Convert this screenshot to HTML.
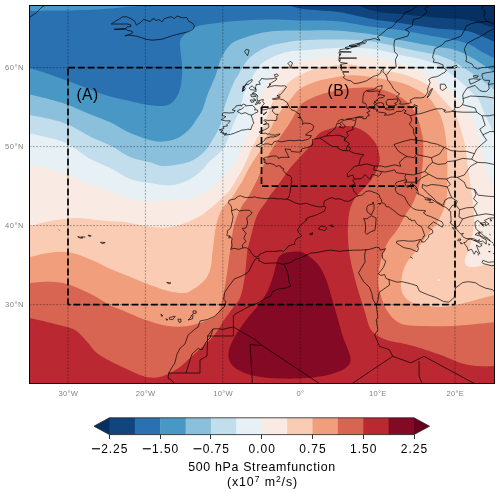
<!DOCTYPE html>
<html><head><meta charset="utf-8"><title>500 hPa Streamfunction</title>
<style>html,body{margin:0;padding:0;background:#fff;}body{width:500px;height:493px;overflow:hidden;}svg{display:block;will-change:transform;}</style>
</head><body>
<svg width="500" height="493" viewBox="0 0 500 493">
<defs><clipPath id="mc"><rect x="29.5" y="5.5" width="465.0" height="378.0"/></clipPath></defs>
<g clip-path="url(#mc)">
<rect x="28" y="4" width="468" height="381" fill="#053061"/>
<path d="M352 3C355.8 4.4 367 9.4 375 11.2C383 13 390 13 400 14C410 15 423.8 16.4 435 17.4C446.2 18.3 457.9 18.2 467 19.7C476.1 21.2 484.5 24.9 489.5 26.4C494.5 27.9 495.8 28.1 497 28.5L496 385 L28 385L28 4Z" fill="#10457e"/>
<path d="M283 3C285.8 3.9 293.8 7.2 300 8.5C306.2 9.8 313.3 9.9 320 10.5C326.7 11.1 331.3 10.9 340 12.3C348.7 13.7 362 17.2 372 19C382 20.8 389.5 21.5 400 23C410.5 24.5 423.8 26.9 435 28.2C446.2 29.5 458.5 29.3 467 30.9C475.5 32.5 481 36 486 38C491 40 495.2 42.2 497 43L496 385 L28 385L28 4Z" fill="#2a71b2"/>
<path d="M27 67.2C30.8 68.4 43.2 72.2 50 74.5C56.8 76.8 61.3 78.5 68 81C74.7 83.5 84.3 87.3 90 89.5C95.7 91.7 97.7 92.6 102 94C106.3 95.4 111.3 96.8 116 98C120.7 99.2 125.2 99.9 130 101C134.8 102.1 139.7 103.7 145 104.5C150.3 105.3 157.4 106.1 161.6 106C165.8 105.9 167.6 105.3 170 104C172.4 102.7 174.2 100.8 176 98C177.8 95.2 179.4 91.7 180.5 87C181.6 82.3 182.2 75.3 182.3 70C182.4 64.7 181.4 59.7 181 55C180.6 50.3 179.5 45.3 180 42C180.5 38.7 181.5 37.5 184 35C186.5 32.5 190.5 28.9 195 27C199.5 25.1 205.7 24.7 211 23.8C216.3 22.9 221.7 22.2 227 21.7C232.3 21.2 237.7 20.9 243 20.6C248.3 20.3 253.7 20 259 19.8C264.3 19.6 268.2 19.4 275 19.5C281.8 19.6 292.5 20.3 300 20.5C307.5 20.7 313.3 20.3 320 20.5C326.7 20.7 331.7 20.5 340 21.5C348.3 22.5 360 25.1 370 26.5C380 27.9 389.2 28.3 400 30C410.8 31.7 425.9 34.9 435 36.6C444.1 38.3 448.7 38.6 454.6 40C460.5 41.4 465.8 42.9 470.5 44.9C475.2 46.9 478.2 49.8 482.6 52.2C487 54.6 494.6 58.3 497 59.5L496 385 L28 385Z" fill="#4997c5"/>
<path d="M27 93.8C30.8 94.8 43.2 97.6 50 99.5C56.8 101.4 61.3 102.5 68 105C74.7 107.5 83 111.3 90 114.2C97 117.1 103.6 119.2 110.3 122.3C117 125.4 123.4 130.1 130 133C136.6 135.9 144.7 138.6 150 140C155.3 141.4 157.5 141.8 162 141.6C166.5 141.3 172.3 140.5 176.8 138.5C181.3 136.5 185.8 132.6 189 129.5C192.2 126.4 194 123 196.2 119.7C198.4 116.5 200.4 114.4 202.3 110C204.2 105.6 206.3 97.8 207.9 93.5C209.5 89.2 210.7 87.1 212 84C213.3 80.9 214.4 79 215.8 75C217.2 71 218.7 64.2 220.6 59.8C222.5 55.4 224.9 51.5 227 48.6C229.1 45.7 230.7 43.9 233.4 42.2C236.1 40.5 238.7 39.7 243 38.2C247.3 36.7 253.7 34.6 259 33.4C264.3 32.2 268.2 31.5 275 31C281.8 30.5 290 30.6 300 30.5C310 30.4 323.3 29.8 335 30.4C346.7 31 359.2 32.4 370 34C380.8 35.6 388.7 37.8 400 40C411.3 42.2 428.9 45.4 438 47C447.1 48.6 449.2 48 454.6 49.7C460 51.4 465.8 54.5 470.5 57C475.2 59.5 478.2 61.7 482.6 64.4C487 67.2 494.6 72 497 73.5L496 385 L28 385Z" fill="#8ac0db"/>
<path d="M27 114.3C30.8 115.1 43.2 117.3 50 119C56.8 120.7 61.3 121.6 68 124.5C74.7 127.4 83 133 90 136.5C97 140 103.6 142.2 110.3 145.6C117 149 123.4 154.2 130 157C136.6 159.8 144.7 160.8 150 162.3C155.3 163.8 157.5 165.6 162 166C166.5 166.4 171.9 165.5 176.8 164.7C181.7 163.9 187 163 191.4 161C195.8 159 199.9 156.2 203.5 152.6C207.1 149 210.2 143.9 213 139.2C215.8 134.5 218.8 129.7 220.6 124.6C222.4 119.5 222.8 113.4 224 108.7C225.2 104 226.4 101 228.1 96.5C229.8 92 232.3 85.6 234 82C235.7 78.4 236.7 77.6 238.2 75C239.7 72.4 240.9 69.3 243 66.2C245.1 63.1 248.3 59.1 251 56.6C253.7 54.1 256.3 52.6 259 51C261.7 49.4 264.3 48.1 267 47C269.7 45.9 269.5 45.7 275 44.6C280.5 43.5 290 41.4 300 40.6C310 39.8 323.3 39.5 335 39.6C346.7 39.7 357.2 39.6 370 41.3C382.8 43 401.9 48 412 50C422.1 52 425.7 52.6 430.4 53.6C435.1 54.6 436 54.4 440 55.8C444 57.2 449.9 59.4 454.6 61.9C459.3 64.3 463.7 67.7 468 70.5C472.3 73.3 475.4 75.4 480.2 79C485 82.6 494.2 89.8 497 92L496 385 L28 385Z" fill="#c2ddec"/>
<path d="M27 132.7C30.8 133.6 43.2 136.1 50 138C56.8 139.9 61.3 140.5 68 144C74.7 147.5 83 154.8 90 158.8C97 162.8 103.6 164.6 110.3 168C117 171.4 123.4 176.5 130 179C136.6 181.5 143.4 181.9 150 183C156.6 184.1 163.7 185.7 169.5 185.4C175.3 185.2 180.8 183.1 185 181.5C189.2 179.9 192 178.1 195 176C198 173.9 200.5 171.5 203 169C205.5 166.5 207.5 163.5 210 161C212.5 158.5 215.5 156.5 218 154C220.5 151.5 222.8 150 225 146C227.2 142 229.2 134.7 231 130C232.8 125.3 234.5 121.3 236 118C237.5 114.7 238.7 114.2 240 110C241.3 105.8 242.3 97.8 244 93C245.7 88.2 247.7 85.2 250 81C252.3 76.8 255.7 71.2 258 68C260.3 64.8 260.8 63.9 264 61.7C267.2 59.5 272.9 56.7 277 55C281.1 53.3 284.7 52.4 288.5 51.7C292.3 51 292.2 51.2 300 50.6C307.8 50 323.3 48.4 335 48.1C346.7 47.8 359.2 47.5 370 48.6C380.8 49.7 392 53.2 400 54.9C408 56.5 412.1 56.9 418.2 58.5C424.3 60.1 430.9 61.8 436.5 64.6C442.1 67.3 447.4 71.6 452 75C456.6 78.4 460.7 81.8 464.4 85.1C468.1 88.4 471.6 92.3 474 94.8C476.4 97.3 477.2 96.7 479 100C480.8 103.3 483 110.1 485 114.6C487 119.1 489 122.6 491 127C493 131.4 496 138.7 497 141L496 385 L28 385Z" fill="#e7f0f4"/>
<path d="M27 164.7C30.8 165.4 43.2 167.4 50 169C56.8 170.6 61.3 171.8 68 174.3C74.7 176.8 83 181.4 90 184.2C97 187 103.8 188.9 110.3 191.3C116.8 193.7 122.4 197 129 198.7C135.6 200.3 142.4 201 150 201.2C157.6 201.4 168.5 200.3 174.3 200C180.1 199.7 180.5 200.5 185 199.5C189.5 198.5 196.3 196.3 201.2 194.1C206.1 191.8 210.1 189.2 214.2 186C218.3 182.8 221.8 178.9 225.6 174.6C229.4 170.3 234.3 164.4 237 160C239.7 155.6 240.4 151.8 242 148C243.6 144.2 244.7 141.6 246.4 137.1C248.2 132.6 250.8 125.6 252.5 120.9C254.2 116.2 255.2 112.8 256.5 108.7C257.9 104.6 258.9 100.6 260.6 96.5C262.3 92.4 264 88.6 266.7 84.3C269.4 80 273.8 73.9 277 70.7C280.2 67.5 283.2 66.3 286 65C288.8 63.7 291.7 63.5 294 62.8C296.3 62.1 296 61.8 300 61C304 60.2 310 59 318 58C326 57 339.3 55.2 348 55C356.7 54.8 361.3 55.6 370 57C378.7 58.4 392 61.3 400 63.4C408 65.5 412.3 67 418 69.5C423.7 72 429.3 75.6 434 78.5C438.7 81.4 442.5 84.1 446 87C449.5 89.9 452.3 93.3 455 96C457.7 98.7 459.5 99.9 462 103C464.5 106.1 467.5 110.1 470 114.6C472.5 119.1 475.2 124.6 477 130C478.8 135.4 479.8 141.7 481 147C482.2 152.3 482.8 157.3 484 162C485.2 166.7 486.7 171.3 488 175C489.3 178.7 490.5 181.6 492 184C493.5 186.4 496.2 188.6 497 189.5L496 385 L28 385Z" fill="#f9ebe3"/>
<path d="M27 226.8C31.3 225.8 44.5 222.1 53 220.6C61.5 219.1 69.8 218 78 218C86.2 218 94.2 219.9 102 220.6C109.8 221.3 117.8 221.1 125 222C132.2 222.9 137.8 225.1 145 226C152.2 226.9 161.3 228 168 227.5C174.7 227 179.5 225 185 223C190.5 221 196.3 218.3 201 215.5C205.7 212.7 209.5 208.9 213 206C216.5 203.1 219.2 200.7 222 198C224.8 195.3 227.7 193 230 190C232.3 187 234.2 183 236 180C237.8 177 239.3 175 241 172C242.7 169 244.3 165.7 246 162C247.7 158.3 249.3 153.7 251 150C252.7 146.3 254.2 143.3 256 140C257.8 136.7 260.2 133.8 262 130C263.8 126.2 265.2 121.8 267 117C268.8 112.2 271 105.2 273 101C275 96.8 277.3 94.1 279 92C280.7 89.9 281.1 90.4 283 88.5C284.9 86.6 287.9 83 290.7 80.7C293.5 78.5 295.4 77.1 300 75C304.6 72.9 310 70 318 68.3C326 66.6 339.3 64.6 348 64.6C356.7 64.6 361.3 67 370 68.5C378.7 70 392 71.6 400 73.5C408 75.4 412.7 77.6 418 80C423.3 82.4 428.2 85.2 432 88C435.8 90.8 438.2 94 441 97C443.8 100 446.5 103 449 106C451.5 109 454 111 456 115C458 119 459.5 125 461 130C462.5 135 464 140 465 145C466 150 466.3 155 467 160C467.7 165 468.2 169.2 469 175C469.8 180.8 471.2 188.5 472 195C472.8 201.5 473.8 207.8 474 214C474.2 220.2 473.8 226.3 473 232C472.2 237.7 470.8 243.5 469.5 248C468.2 252.5 465.5 256.1 465 259C464.5 261.9 465 264.2 466.5 265.5C468 266.8 470.9 267.1 474 267C477.1 266.9 481.2 265.5 485 265C488.8 264.5 495 264.2 497 264L496 385 L28 385Z" fill="#fbccb4"/>
<path d="M27 257.8C30.2 257 40.8 254.2 46.5 253.2C52.2 252.2 56.1 251.6 61 251.7C65.9 251.8 70.7 252.5 76 254C81.3 255.5 87.2 258 93 260.5C98.8 263 105.7 266.8 111 269.2C116.3 271.6 119.3 272.5 125 274.8C130.7 277.1 137.8 280.3 145 283C152.2 285.7 161.5 289.3 168 291C174.5 292.7 180 293.2 184 293C188 292.8 189.3 291.4 192 290C194.7 288.6 197.5 286.7 200 284.5C202.5 282.3 205.2 280.1 207 277C208.8 273.9 210.1 270.2 211 266C211.9 261.8 212 256.3 212.5 252C213 247.7 213.4 244.3 214 240C214.6 235.7 215 230.5 216 226C217 221.5 218.5 216.5 220 213C221.5 209.5 223.2 207.3 225 205C226.8 202.7 228.8 201.8 231 199C233.2 196.2 236 191.2 238 188C240 184.8 241.2 183.3 243 180C244.8 176.7 246.8 171.8 249 168C251.2 164.2 253.8 160.3 256 157C258.2 153.7 260.3 151 262 148C263.7 145 264.5 142.3 266 139C267.5 135.7 269.5 131.2 271 128C272.5 124.8 273.5 122.7 275 120C276.5 117.3 278.3 114.3 280 112C281.7 109.7 283 108.4 285 106C287 103.6 289.5 100.4 292 97.5C294.5 94.6 295.7 91.5 300 88.7C304.3 86 310 83.2 318 81C326 78.8 339.3 76.3 348 75.6C356.7 74.9 361.3 75.8 370 77C378.7 78.2 392.2 80.4 400 82.5C407.8 84.6 412.2 87 417 89.6C421.8 92.2 425.8 95 429 98C432.2 101 434 104.4 436 107.6C438 110.8 439.6 113.3 441 117C442.4 120.7 443.7 125.3 444.6 130C445.5 134.7 446.1 139.8 446.5 145C446.9 150.2 447.2 154.3 447.3 161C447.4 167.7 447.5 178.2 447.3 185C447.1 191.8 447.4 196.2 446 202C444.6 207.8 442.2 213.8 439 219.5C435.8 225.2 430.6 231.1 426.6 236.5C422.6 241.9 418.4 247.4 415 252C411.6 256.6 408.2 260 406 264C403.8 268 402.8 272.2 402 276C401.2 279.8 400.7 283.7 401 287C401.3 290.3 402.2 293.4 404 296C405.8 298.6 408.6 300.9 412 302.5C415.4 304.1 419.2 304.8 424.5 305.5C429.8 306.2 437.2 307.3 443.5 307C449.8 306.7 456.2 304.9 462.5 303.5C468.8 302.1 475.2 300 481 298.5C486.8 297 494.3 295.2 497 294.5L496 385 L28 385Z" fill="#f19e7d"/>
<path d="M27 283.3C30.2 283.1 40.3 281.8 46.5 281.8C52.7 281.8 58.1 282 64 283.3C69.8 284.6 76.2 287.4 81.6 289.7C87 292 91.4 294.3 96.3 297C101.2 299.7 106.2 303.4 111 305.8C115.8 308.2 119.3 309.1 125 311.4C130.7 313.7 137.8 317.3 145 319.7C152.2 322.1 160.8 324.9 168 326C175.2 327.1 181.9 326.8 188 326C194.1 325.2 200.4 322.8 204.7 321.3C209 319.8 211.5 318.9 214 317C216.5 315.1 218.2 312.8 219.5 310C220.8 307.2 221.1 304 222 300C222.9 296 224.1 291 225 286C225.9 281 226.8 275.2 227.5 270C228.2 264.8 228.8 260 229.5 255C230.2 250 230.8 244.8 231.5 240C232.2 235.2 232.9 230.3 234 226C235.1 221.7 236.6 217.5 238 214C239.4 210.5 241 207.5 242.5 205C244 202.5 245.4 201.5 247 199C248.6 196.5 250.2 193.5 252 190C253.8 186.5 256 182.3 258 178C260 173.7 261.8 168.5 264 164C266.2 159.5 268.7 155 271 151C273.3 147 275.7 143.5 278 140C280.3 136.5 282.8 133.2 285 130C287.2 126.8 289.2 124 291 121C292.8 118 294.5 114.6 296 112C297.5 109.4 298.5 107.2 300 105.5C301.5 103.8 302 103.2 305 101.5C308 99.8 313.8 97.1 318 95.5C322.2 93.9 325 93.2 330 92C335 90.8 341.3 89.2 348 88.5C354.7 87.8 364.7 87.4 370 87.5C375.3 87.6 375.7 87.8 380 89C384.3 90.2 391.7 92.8 396 94.8C400.3 96.8 403.2 98.6 406 101C408.8 103.4 411 106 413 109C415 112 416.7 115.5 418 119C419.3 122.5 420.2 126.5 421 130C421.8 133.5 422.7 135 423 140C423.3 145 423.5 153 423 160C422.5 167 421.5 175.2 420 182C418.5 188.8 416.3 195.7 414 201C411.7 206.3 408.8 209.2 406 214C403.2 218.8 400 225.3 397 230C394 234.7 390.6 237.3 388 242C385.4 246.7 383.1 252.5 381.5 258C379.9 263.5 378.8 269.5 378.5 275C378.2 280.5 378.2 285.3 379.5 291C380.8 296.7 383.4 304.2 386 309C388.6 313.8 391.7 317.3 395 320C398.3 322.7 401.2 324 406 325C410.8 326 417.8 325.8 424 326C430.2 326.2 436.7 326.4 443 326.3C449.3 326.2 455.7 325.8 462 325.3C468.3 324.8 475.2 323.9 481 323.4C486.8 322.8 494.3 322.2 497 322L496 385 L28 385Z" fill="#d86551"/>
<path d="M27 317.3C30.2 318.1 40.3 320.4 46.5 321.9C52.7 323.4 59.1 324.9 64 326.3C68.9 327.8 72.1 327.9 76 330.6C79.9 333.3 84.1 338.6 87.5 342.3C90.9 346 92.9 349.7 96.3 352.6C99.7 355.6 104.1 357.8 108 360C111.9 362.2 115.9 363.9 119.6 365.7C123.3 367.4 126.6 368.9 130 370.5C133.4 372.1 136.7 373.8 140 375C143.3 376.2 146.7 377.3 150 377.6C153.3 377.9 156.7 377.8 160 377C163.3 376.2 166.7 374.7 170 373C173.3 371.3 176.7 369.5 180 367C183.3 364.5 186.7 361 190 358C193.3 355 196.7 352 200 349C203.3 346 207 343.2 210 340C213 336.8 215.7 333.3 218 330C220.3 326.7 222.1 322.9 224 320C225.9 317.1 227.7 315 229.5 312.5C231.3 310 233.2 307.4 235 305C236.8 302.6 238.7 301 240 298C241.3 295 242.2 290.8 243 287C243.8 283.2 244.5 278.7 245 275C245.5 271.3 245.6 269.2 246 265C246.4 260.8 246.8 254.2 247.5 250C248.2 245.8 249.1 243.7 250 240C250.9 236.3 252 231.7 253 228C254 224.3 254.8 221 256 218C257.2 215 258.3 212.7 260 210C261.7 207.3 264.2 204.7 266 202C267.8 199.3 269.3 196.3 271 194C272.7 191.7 274 190.7 276 188C278 185.3 280.5 181.5 283 178C285.5 174.5 288 170.7 291 167C294 163.3 297.8 159.5 301 156C304.2 152.5 307 149.8 310 146C313 142.2 315.5 136.4 319 133.5C322.5 130.6 327 129.7 331 128.4C335 127.2 339 126.2 343 126C347 125.8 351.3 126.2 355 127.2C358.7 128.2 362.2 130.1 365 132C367.8 133.9 370 136.2 372 138.5C374 140.8 375.8 143.2 377 146C378.2 148.8 378.8 152.3 379.2 155C379.6 157.7 380.2 158.8 379.5 162C378.8 165.2 377.2 170 375 174C372.8 178 369.1 182.5 366 186.2C362.9 189.9 359.1 192.4 356.5 196C353.9 199.6 351.8 203.7 350.4 208C349 212.3 348.6 216.3 348.2 222C347.8 227.7 347.8 235.7 348.2 242C348.6 248.3 349.5 254.5 350.5 260C351.5 265.5 352.8 270 354 275C355.2 280 356.3 284.3 358 290C359.7 295.7 362 302.7 364 309C366 315.3 367.7 323.5 370 328C372.3 332.5 374.7 333.8 378 336C381.3 338.2 385.5 339.7 390 341C394.5 342.3 399.3 342.6 405 344C410.7 345.4 417.7 347.2 424 349.2C430.3 351.2 436.7 353.4 443 355.8C449.3 358.2 455.7 361.8 462 363.5C468.3 365.2 475.2 365.9 481 366.3C486.8 366.7 494.3 366.1 497 366L496 385 L28 385Z" fill="#ba2832"/>
<path d="M27 3C27 4.2 23.2 8.9 27 10.2C30.8 11.5 42 10.6 50 10.6C58 10.6 67.2 10.5 75 10.3C82.8 10.1 90.2 10 97 9.6C103.8 9.2 110.5 8.5 116 8C121.5 7.5 125.2 7 130 6.6C134.8 6.1 141.3 5.9 145 5.3C148.7 4.7 150.8 3.4 152 3 L27 3 Z" fill="#4997c5"/>
<path d="M293.1 251.7C290.2 251.8 286.7 252.2 284.3 253.2C281.9 254.2 279.9 255.3 278.5 257.5C277.1 259.7 276.6 262.9 275.6 266.3C274.6 269.7 274.1 273.6 272.6 278C271.1 282.4 269.2 288 266.8 292.6C264.4 297.2 260.9 301.9 258 305.8C255.1 309.7 252.1 312.4 249.2 316C246.3 319.6 243.2 323.8 240.5 327.7C237.8 331.6 235.1 335.5 233.2 339.4C231.2 343.3 229.4 347.5 228.8 351.1C228.2 354.7 228.1 357.9 229.5 361C230.9 364.1 233.2 367 237.5 369.5C241.8 372 247.9 374.5 255 376C262.1 377.5 271.3 378.2 280 378.5C288.7 378.8 298.7 378.7 307 378C315.3 377.3 323.5 376.2 330 374.5C336.5 372.8 342.6 370.2 346 367.5C349.4 364.8 351 363.2 350.5 358C350 352.8 345.1 343.5 342.8 336.5C340.6 329.5 338.9 322.8 337 316C335.1 309.2 332.8 301.4 331.1 295.6C329.4 289.8 328.6 285.9 326.7 281C324.8 276.1 322.1 270.2 319.4 266.3C316.7 262.4 313.5 259.8 310.6 257.5C307.7 255.2 304.8 253.3 301.9 252.3C299 251.3 296 251.5 293.1 251.7Z" fill="#840924"/>
<ellipse cx="439" cy="280.2" rx="1.3" ry="0.9" fill="#f9ebe3"/>
<g fill="none" stroke="#000" stroke-width="0.68" stroke-linejoin="round"><path d="M256 146 260 146.9 261.1 145.4 264.6 144 268.1 143.8 272 144.9 273.9 141.9 277.4 140.9 281.2 141.9 285.1 141.1 289.4 140.3 294.1 140.8 299.1 140.1 302.1 140.8 307.7 139.4 310.4 137.7 311.4 135.7 305.6 135.1 306 134.4 307.9 132.8 310.2 131.2 312.4 130.2 313.7 127 313.6 125.7 310.3 123.5 304.1 123.1 302.5 124.5 302.8 121.8 301.1 118.3 297.9 117.2 300.2 118 299.6 114.1 297.1 112.8 295.5 111.1 292 110.1 291.1 109.5 289.5 107.8 289.2 106.9 288 104.5 287 102.3 284.7 101 283.7 99.9 280.7 99.2 279.1 98.7 275.4 99.4 272.3 99 275.8 98.3 280.2 97 278.5 96.5 277 95.6 280.2 94.8 281.1 93.6 283.2 91.6 284.1 90.1 286.4 87.3 286.1 86.5 284.7 85.8 280.7 86 274.7 85.6 270.2 86.6 267.5 87.5 268.9 85.9 271 84.4 269 84.3 271.9 82.5 276.3 79.9 276.7 78.3 274.1 78.1 273 78.7 266.1 79.1 261.5 78.5 260.7 80.2 258.8 81.5 260.3 84.2 256.1 84.6 256.1 85.6 255.3 88.1 256 89.1 256.1 91.3 255.1 91.3 252 93.5 255.7 93.7 257.9 96 256.9 98.4 257.6 100 256.9 101.6 255.3 104.7 257.6 103.9 258.4 100.8 262.3 99.6 263.4 99.6 262.7 101.6 264.4 103.5 262.6 105.2 261.5 107.1 262.6 109.9 266.1 109.5 268.9 108.4 272.3 107.9 275.4 107.5 273.9 108.3 273.1 109.3 272.1 111 274.7 113.4 275.2 114.2 278.1 114.4 276.6 116.4 277 118.2 276.6 119.5 276.2 120.5 270.4 120.3 267.7 120.5 264.6 119.7 263.8 120.5 266.1 121.7 266.5 123.3 263.4 124.6 266.1 124.1 268.5 123.7 268.9 126.1 268.6 127.6 264.2 130 259.2 131.7 260 133.2 261.5 133.2 263.8 133.4 266.1 133 266.9 134.3 269.6 133.8 271.6 134.9 275.7 135.1 277.4 134.4 280.1 134 278.9 135.1 277.1 136 273.3 137.1 270.6 136.9 265.1 138.5 265 140 262 142.3 260.9 143.3 257.8 144.9Z"/>
<path d="M243.2 104.1 246 105.1 245.6 105.9 249.9 105.5 252.6 105.4 255.3 108.3 254.5 109.9 257.4 109.9 258 111.8 257.2 112.2 254.5 113.4 253 114.6 251.1 115 251.8 117.2 253 120.1 252.8 120.6 253.8 123.1 252.7 124.5 251.1 128.1 251 129.5 247.6 129.2 246.4 129.6 241.4 130.2 239.4 131.2 236 132.4 234.4 133.2 230.5 134.4 224.2 135.1 226.7 133.3 222.8 134 223.6 132.4 220.5 132.4 222.8 130.4 219.3 129.9 224 128.4 223.3 126.4 227.4 126.1 226.7 124.9 229.8 121.7 230.2 120.8 225.1 120.9 221.3 119.7 223.6 118.2 225.9 116.6 222 115.4 222.8 113.4 223.6 112.6 229 113 233.6 112.6 235.2 110.7 232.1 109.9 232.5 109.5 234.4 108.3 236.1 105.9 241.1 105 241.4 106.3 242.2 104.9Z"/>
<path d="M244.1 106.7 241.8 109.1 239.1 109.9 237.1 111.4 241.4 113.8 245.2 112.6 249.1 114.6 251.1 115"/>
<path d="M263 114.6 266.5 111.8 266.5 112.6 264.6 114.4Z"/>
<path d="M252.2 79.4 247.6 81.8 245.2 85 242.9 88.1 243.7 90.5 242.2 91.7 243.7 88.1 246 84.6 249.1 84.2 252.2 81Z"/>
<path d="M252.2 85.8 249.1 88.1 250.7 89.7 254.5 90.1 256.1 88.9 253.8 87.7Z"/>
<path d="M250.7 94.5 256.1 95.2 256.1 96.4 251.4 96.8Z"/>
<path d="M250.3 100 253 100 253.8 102 251.4 102.4Z"/>
<path d="M274.3 74.7 277 73.9 278.5 75.5 275.4 77.1Z"/>
<path d="M290.1 61.3 292.5 62.9 291.3 66 290.1 68.4 289.8 65.2 287.8 63.6Z"/>
<path d="M246 49.4 249.1 50.2 247.6 55.7 244.5 51.8Z"/>
<path d="M386.1 75.5 385 73.9 383 71.9 383.4 68.4 381.5 70 380.7 73.1 378 75.1 375.7 75.7 373 76.5 368.1 79.8 366.8 80.7 362.1 82.2 357.9 83.2 354.8 83.6 352.8 82.7 351.3 81 346.6 79.8 343.2 77.5 344.6 75.7 343.5 73.9 342.8 72.3 349 71.9 342.8 71.5 341.2 70 342 67.6 340.4 64.4 347.4 63.3 340.4 62.5 338.9 60.5 338.9 58.5 356.7 58.1 338.9 57.7 339.7 55 338.9 52.2 351.3 52 339.7 51.4 339.7 49.8 343.5 49 349 48.5 345.1 47.8 348.2 46.7 356.7 46.1 349 45.6 354.4 44.3 360 43 364.4 40.3 369.9 39.6 374.5 38.4 379.9 40.3 377.6 36.8 379.9 35.2 383.8 32 386.9 29.2 391.5 27.3 394.6 24.4 396.9 21 400.8 18.6 403.1 15.5 405.5 12.3 411.7 10.1 414.8 7.6 418.6 4.4 420.9 2"/>
<path d="M386.1 75.5 386.7 76 387.7 80.2 388.8 81.3 390.8 84.2 391.9 85.8 393.1 88.1 395 90.5 396.9 92.1 399.7 93.9 397.7 95.6 396.6 96.8 398.5 98.8 399.5 100.2 400.8 102.4 399.4 103.9 402.1 104.2 407.2 103.7 411.3 102.7 410.1 100 410.9 99.8 414 98 415.2 97.9 420.8 97.9 424 97.2 426.8 94 427.9 91.3 427.5 89.2 429 85.3 430.2 82.6 428.7 79.4 431.8 77.5 436.4 76.7 438.7 75.9 441.8 73.9 444.9 72.3 446.5 70 443.4 67.6 443 64.9 438 62.9 433.3 62.1 434.1 59.7 432.6 57.3 433.3 54.2 434.9 48.6 439.1 46.8 443.4 43.9 444.9 41.5 451.1 39.9 457.3 37.6 461.2 36 464.3 30.5 466.6 25.7 471.6 23.5 478.2 22.2 486.7 21.5 487.1 21.4 490.2 22.3 496 24.9 497.2 28.1 489.7 30.6 479.1 37.3 475.9 38.6 467.4 43.1 464.3 48.8 466.2 55.7 466.6 58.7 465.8 61.3 472 64 474.4 67.6 477.8 69 482.1 67.6 488.3 67.2 493.3 66.3 498.3 65.2"/>
<path d="M386.1 75.5 391.5 68.8 396.2 66.8 395.4 59.7 397.7 55 394.6 51.8 393.9 45.5 394.6 39.9 407.8 36 409.3 32 405.5 29.7 412.4 25.7 413.2 19.4 420.2 17.8 427.1 12.3 424.8 8.3 433.3 3.6"/>
<path d="M487.1 21.4 483.6 16.2 485.2 12.3 482.1 8.3 482.9 4.4"/>
<path d="M459.6 -3.5 466.6 0.4 474.4 2.8 482.1 4.4"/>
<path d="M440.3 84.2 444.9 84.2 446.5 87.7 442.6 90.5 440.3 88.9Z"/>
<path d="M427.1 97.6 429.1 96 432.6 88.5 430.6 89.7Z"/>
<path d="M451.9 66.8 456.5 65.2 457.3 67.2 454.2 68.4Z"/>
<path d="M468.9 79.4 473.6 78.7 480.5 79.4 475.9 81.8 470.5 84.2Z"/>
<path d="M473.6 75.5 478.2 75.9 477.4 77.5 473.6 77.1Z"/>
<path d="M498.3 70.8 491.8 71.9 486.3 72.7 482.1 73.9 482.1 75.9 482.9 78.7 484.4 80.2 489.8 80.4 488.3 84.2 488.7 84.4 489.1 88.9 486.7 91.3 482.9 91.5 479.8 90.5 475.1 85.4 467.1 88.1 464.3 92.1 462.7 95.2 463.5 101.6 462.4 104.7 459.3 107.5 455 107.5 454.2 109.9 450.4 111.8 444.9 112.2 443.8 110.9 445.7 110.3 441.8 108.7 436 108.9 430.6 110.4 427.1 111.6 420.7 113.6 414.8 114.6 410.5 115.6 407 114.2 406.2 113.4 403.9 113 406.2 111 403.9 109.6 401.6 111.4 396.9 111.4 393.9 113.6 388.8 115 385.3 115 384.2 115.4 386.1 113.4 383.8 112.6 378.8 112.2 377.6 111 376.4 111.3 377.6 109.5 373.2 108.7 374.5 107.9 373.1 106.8 375.3 105.1 373.7 103.2 375.7 102.6 374.1 101.6 377.6 100.4 376.4 100.3 379.1 98 383 97.6 384.8 95.9 379.9 94.5 378 95.6 379.9 92.1 379.5 90.9 381.7 88.7 381.8 87.8 382.2 85.5 377.6 86.6 377.3 86.6 373.7 89.7 366.8 90.4 363.7 92.9 363.7 93.7 363 96.8 362.9 99.2 362.7 102.7 365.6 103.4 366.8 106.3 366.8 107.9 369.9 111.2 366.8 112.6 369.1 114.2 369.1 115.8 367.5 116 366 118.2 366.4 118.6 362.9 118.8 362.1 117.4 358.2 117.4 355.9 118.2 355.9 120.1 354.4 120.5 353.8 120.3 350.5 119.3 346.6 119.7 342.8 120.5 342.2 121.6 339.7 123.3 337 123.3 335.8 126.8 335.6 127.2 334.3 129.2 331.9 131 331.2 132 328.8 133.2 327.3 134.4 327.8 135.2 326.5 135.9 325 136.1 322.6 137 319.9 138 318.5 138.3 314.5 139 312.4 139.7 312.6 140.9 312.6 143.4 312.6 145 310.9 146.1 308.6 147.2 303.1 148.5 301.7 149 301 150.6 302 151.2 299.4 152.1 297.9 152.1 293.2 151.7 291.7 151.7 290.5 150.2 290.4 149.2 287.7 149.4 285.2 148.8 285.9 151.3 287.8 154.5 287.8 155.8 289.4 157.3 284.7 157.3 282.4 157.3 282.2 157 278.5 158.4 278.9 158.1 276.6 156.2 273.1 155.9 269.4 156.7 265.4 157.4 263.3 158.4 265.4 159.4 263.2 159.8 265.4 160.8 264.6 162 263.6 162.1 266.5 163 266.4 164 269.9 163.4 274.1 164.6 276.1 166.5 277.8 166 278.9 165.6 280.9 166.3 281.2 167.9 283.2 168.2 283.9 169.1 282.8 170.3 284.7 171.9 286.3 174.2 290.1 175.8 291.3 177 291.7 179 290.9 180.6 292.1 181.4 291.3 182.9 290.9 186.1 290.5 188.9 290.1 192.4 289 196.8 288.1 198.1 286.4 199 284.9 199.4 280.9 198.7 277 198.9 273.9 198.3 270.8 198.2 266.1 198.7 261.5 198.2 256.4 197.5 254.9 196.7 252.2 197.4 247.6 197.4 245.6 197.6 241.4 196.2 240.7 195.7 238.3 196.4 236 197.9 235.2 199 232.1 199.5 229 200.3 228.5 202.8 230.5 205.1 231.3 206.6 231.7 208.2 231.5 210.8 231.8 212.2 233 216.5 232.5 220.5 231.5 224.4 230.5 228 230 228.8 227.4 230.7 227.4 233.5 226.7 235.2 227.3 235.9 229.4 235.9 230.5 236.3 229 236.7 228.8 238.1 231.3 237.4 232.1 239 231.5 241.8 232.1 245.3 231.3 248.5 230.6 249.1 230.9 249.3 233.1 248.5 234.2 248.4 238.8 249.3 241.4 248.5 242.8 247.9 246.4 247.7 249.9 250.1 251.4 253 253 254.8 253.5 255.8 256.9 257.1 258 256.2 258.8 256.1 260 254 262.4 253.2 266 251.5 270 251.4 273 251.5 277 251.3 281.1 250.6 283.2 251.5 285.5 249.7 287.8 246.9 288 246.1 292.6 244.6 294.9 244.3 294.4 242.2 294.9 241.6 296.5 238.7 299.4 237.1 302 235.6 301 234.8 298.7 232.7 297.6 229.9 298.7 228.2 300 225.8 302.5 223.2 303.3 222.8 306.9 219.9 305.6 219.3 309.9 216.8 314.1 215.8 317 214.7 320.3 213 321.9 212.4 325 210.6 325 209.4 325.9 207.3 324.7 206.4 324 205.6 323.8 203.5 324.2 201.1 327.1 199.5 328.8 198.7 331.9 197.6 335.8 199.1 338.1 198.7 341.8 199.5 343.5 200.6 346.1 201.1 347.8 201.7 349.7 200.7 351.7 199.8 353.6 198.3 354.4 197.6 355.4 197.4 356.5 196.4 357.7 196.1 358.2 195.7 360.4 195.4 362.4 194.9 365.8 191.6 369.3 190.8 371.4 191.4 376.3 193.2 377.6 193.6 379.1 194.8 379.9 197.6 381.5 199.9 381.6 202.5 383.8 203.5 385.3 204.3 386.1 206.6 389.2 207 391.5 209 394.6 211 395.2 211.9 398 214.1 401.2 216 405.2 216.1 407.8 217.3 408.9 219.3 410.5 219 411.3 220.9 413.2 220.5 414.5 220.2 416.3 223.2 418.5 225.4 420.9 226 422.5 228.8 424 233.5 424.8 235.9 422.9 236.7 423.3 237.8 421.9 239.4 421.3 240.6 421.7 242 424.5 242 425.6 240.6 428.3 237.8 428.7 235.1 432.8 232.9 432.6 230.3 428.7 228 427.9 227.6 431 224 433.6 221.9 435.7 223.2 439.1 225.2 442.3 227.2 443.4 224.4 441.8 221.7 439.1 220.5 434.9 218.5 430.8 216.7 426.4 215.1 423.3 212.7 425.2 211.8 425.4 210.7 423.3 210.4 420.2 210.4 416.3 209.8 414 209 410.1 206.1 407.8 203.1 406.2 200.3 404.7 197 401.6 195.2 400 194.6 397.5 193.5 395.4 190.4 395.4 187.7 397.3 186.5 395.4 184.5 395.8 182.8 397.7 181.8 400.8 181 405.1 179.9 406.8 181 405.5 182.2 405.2 181.9 404.7 182.7 405.5 184.4 405.7 185.5 407.4 187.1 408.2 187.3 409.7 185.5 411.3 183.7 411.9 183.5 413.2 184.5 415.5 186.2 417.1 188.5 417.8 191.2 418.1 193.1 420.2 194.8 423.3 196.1 424.8 197.9 427.4 197.9 429.5 198.7 431.9 199.5 434.9 201.5 436.4 202.5 438 203.5 440.3 204.7 442.6 206.2 444.2 206.6 446.1 207.6 448 209 448.8 210.4 450.7 211.4 450.7 215.2 451.1 218.5 451.1 222 450 222 451.1 224 454.2 226 455 226.6 456.2 228.8 457.1 229.6 458.1 231.3 460.8 233.9 463.5 233.5 461.6 234.7 463.4 237.2 466.1 238.5 468.9 238.6 473.6 238.6 477.4 240.6 479.8 239.8 477.7 241.9 476.3 241 473.6 240.2 470.5 239 467.4 239.8 465.8 242.2 463.7 242.6 467.4 247.7 468.2 250.9 470.1 249.7 471.6 249.3 474.2 254.2 475.9 250.9 478.2 253.2 479.8 253.7 478.2 250.1 476.3 245 479.4 246.9 482.1 245.3 478.2 242.2 482.5 241 486.2 244.2 486.3 239.8 482.9 238.2 479.8 235.9 475.1 234.7 477.1 233.1 480.5 232.3 477.8 230.7 475.9 228.4 475.1 225.6 475.1 222 477.8 220.5 481.3 223.6 483.6 226.4 480.5 223.2 485.2 222.4 485.6 225.6 489.1 224 484.4 220.5 489.1 218.2 493.7 217.9 498.3 218.5"/>
<path d="M498.3 70.8 501.4 70.8"/>
<path d="M373 201.9 374.1 205.1 374.1 209 371.4 214.8 368.3 213 366.8 210.6 366.8 207.4 368.3 205.1 372.2 204.3Z"/>
<path d="M371.4 215.7 376.1 218.1 375.7 224.8 374.9 230.3 370.6 231.9 366.8 234.3 365.2 232.7 365.6 228 365.2 222.4 363.7 218.5 366.8 218.9Z"/>
<path d="M420.6 239.3 417.1 245.3 418.5 248.7 417.1 251.8 410.5 248.9 403.9 247.7 396.4 243 396.9 241.2 403.6 240.5 408.6 241.2 414.8 241Z"/>
<path d="M318.4 229.2 320.7 226 324.6 226.4 326.9 228 325 230.7 321.1 229.6Z"/>
<path d="M329.6 225.6 333.5 226.8 332.7 225.2 330 225.2Z"/>
<path d="M309.5 233.9 312.6 232.7 312.2 234.7 310.3 234.7Z"/>
<path d="M482.1 262.7 482.9 260.4 488.3 262.3 493.7 261.8 499.9 264.3 503.8 263.1 503 265.1 497.6 265.3 491.4 265.7 482.9 263.5Z"/>
<path d="M478.2 233.5 481.3 236.3 486.7 238.6 490.6 241.4 488.3 238.6 483.6 235.5 480.5 233.1Z"/>
<path d="M500.3 231.5 506.1 230.7"/>
<path d="M488.7 243.8 489.8 244.6 489.1 245.3Z"/>
<path d="M496.4 248.5 498 248.9 497.6 249.7Z"/>
<path d="M493.7 244.2 495.2 245 493.7 245.7Z"/>
<path d="M496.8 248.1 498 248.9 497.2 249.7 496.4 248.9Z"/>
<path d="M492.9 253.6 495.2 253.6 496.4 254.4"/>
<path d="M500.7 236.7 502.6 237.1"/>
<path d="M490.2 219.3 491.8 220.1 491 221.3Z"/>
<path d="M458.5 239 460.8 239 460 241 457.7 240.6Z"/>
<path d="M460 242.6 462.4 243.4 461.6 244.2Z"/>
<path d="M452.3 227.6 455.8 228.4 454.6 230.3Z"/>
<path d="M410.1 256.8 412.8 258.4"/>
<path d="M378.4 203.5 381.1 203.5 380.3 204.3Z"/>
<path d="M174.8 384.4 172.5 381.2 170.2 379.3 168.2 378.5 168.2 376.5 169 372.9 171.7 367.8 174.8 363.1 176.9 354.4 180.2 348 184.9 344.1 188 335.2 194.9 329.1 198 327.1 200.2 320.9 207.3 319.6 214.3 316.5 221.5 309.5 224.3 307 225.9 301.3 223.7 299.6 224.6 292.7 228.7 286.4 234.4 278.9 241.4 276.2 247.3 272.8 249.1 270.9 252.6 263.6 255.3 258.9 259.2 258 258.7 260.6 264.6 263.5 269.8 263.1 277.5 262.9 283.2 264.3 290.1 262.7 295.2 259.6 300.9 257.8 310.3 253.2 317.2 252.5 323.9 251.1 330.4 250.1 339.5 251.3 344.9 250.7 353.6 250.2 360.3 250.1 366.8 249.7 368 249.7 376.6 247.2 379.1 247.7 380.3 250.1 385.7 248.7 382.2 254 382.6 258.5 385.9 261.1 383.5 267.2 378.4 273.9 380.7 275.4 384.6 274.6 386.1 278.5 389.2 279.6 396.9 282.1 402.2 281.7 410.6 283.7 417.1 285.8 419.4 291.2 428.7 295.1 435.7 297.5 443.4 301.4 448.8 302.2 454.2 297.5 455.5 287.9 459.6 284.9 462.7 282.5 468.2 281.7 475.4 282.7 479.8 285.6 485.7 288.2 492.2 289.6 494.9 292 501.4 292.8"/>
<path d="M160.9 314.1 162.8 315.7 161.7 316.5Z"/>
<path d="M165.9 318.8 167.8 319.6 166.7 320.4Z"/>
<path d="M169.4 317.6 175.2 316.1 172.9 319.6 169.4 319.2Z"/>
<path d="M177.9 319.2 181 319.2 181 322 179.1 322.4Z"/>
<path d="M191.8 314.9 193 314.5 192.6 318.8 188 320 190.3 318Z"/>
<path d="M193 310.9 196.1 310.9 196.1 313.3 193 313.3Z"/>
<path d="M166.7 282.5 170.9 282.9 169.4 283.7Z"/>
<path d="M100.5 242.2 105.2 242.6 102.1 243.8Z"/>
<path d="M77.7 236.7 83.1 237.8 80.4 238.2Z"/>
<path d="M88.1 235.1 91.2 235.9 88.9 236.3Z"/>
<path d="M81.2 236.7 85.4 237.1"/>
<path d="M58.7 229.6 59.5 230.3"/>
<path d="M286.4 199 289.4 199.9 294.8 202.7 300.2 204.3 305.6 203.1 311.4 205.1 314.1 205.8 319.6 207 324.7 206.4"/>
<path d="M231.5 210.8 236.7 209 239.1 211 244.5 210.2 249.5 210.2 252.2 213 246.8 217.7 247.6 223.2 246 228 242.2 228.4 246 233.5 243.7 238.2 246 241.4 242.2 245 242.8 247.9"/>
<path d="M319.9 138 323.4 140.5 328.8 144.2 332.7 146.6 337.7 146.6 337.7 148.2 342.8 150.6 345.9 150.6"/>
<path d="M326.5 135.9 333.5 135.5 338.9 135.1 345.1 137.5 344.3 140.7"/>
<path d="M344.3 140.7 347.4 141.9 349.7 144.2 347.4 145.8 345.9 150.6"/>
<path d="M347.4 145.8 350.5 148.2 349.3 150.9 345.9 150.6"/>
<path d="M355.9 120.9 354.4 126.1 352.1 126.8 353.6 129.2 346.6 132 348.2 135.5 345.9 138.3 344.3 140.7"/>
<path d="M349.3 150.9 354.4 153.3 363.7 154.7 360.6 158.4 358.6 165.6"/>
<path d="M358.6 165.6 354.4 166.3 347.4 173.5 347.4 177 352.8 175 354.4 179"/>
<path d="M354.4 179 352.8 180.6 355.2 184.1 351.3 185.3 354.4 192 358.2 195.7"/>
<path d="M358.6 165.6 366.8 164 374.5 166"/>
<path d="M374.5 166 373.7 169.9 381.1 171.5"/>
<path d="M354.4 179 361.3 178.6 365.2 174.6 369.9 179.4 372.2 174.2 378.4 176.2 381.1 173.9 381.1 171.5"/>
<path d="M374.5 166 381.5 166 385.3 167.1 394.6 164.8 400.8 166.3 399.3 162.4 403.9 158.1 407 156.5"/>
<path d="M381.1 171.5 385.3 172.1 394.6 169.9 396.2 172.7 406.2 174.1"/>
<path d="M406.2 174.1 413.2 175 420.9 172.7 424.8 171.5"/>
<path d="M424.8 171.5 427.9 166.3 432.6 162.4"/>
<path d="M432.6 162.4 431.4 157.7"/>
<path d="M431.4 157.7 416.3 154.5 414 157.7 407 156.5"/>
<path d="M407 156.5 398.5 151.3 393.9 144.6 396.9 143.4 404.7 141.1 410.9 139.5 414.8 139.9"/>
<path d="M414.8 139.9 416.3 137.9 414 134 413.2 128.4 409.3 124.1 411.7 120.5 410.5 115.6"/>
<path d="M366.8 107.9 373 108.3 373.2 108.7"/>
<path d="M414.8 139.9 420.2 140.7 426.4 141.5 431 143 437.2 144.2 444.2 147.4"/>
<path d="M444.2 147.4 439.5 154.1 431.4 157.7"/>
<path d="M444.2 147.4 451.1 150.6 458.9 151.3 466.6 151.3 474.4 153.7"/>
<path d="M474.4 153.7 476.7 149 482.9 143.4 486.7 140.3 482.9 134.8"/>
<path d="M482.9 134.8 479.8 129.2 485.2 125.3 482.1 115.8"/>
<path d="M482.1 115.8 476.7 112.2"/>
<path d="M476.7 112.2 462.7 112.2 451.9 111.4"/>
<path d="M476.7 112.2 475.1 107.9 465.8 105.5 462.4 104.7"/>
<path d="M463.1 98.6 470.5 96 486 96.8 493.7 98 506.1 101.6"/>
<path d="M482.1 115.8 489.1 115.8 499.9 113.4 497.6 108.7 506.1 101.6"/>
<path d="M488.7 84.4 496 83.4 501.4 84.6"/>
<path d="M432.6 162.4 438 164.4 445.7 163.6 447.3 161.6 455 160.8 462.7 158.4 471.6 159.2"/>
<path d="M471.6 159.2 474.4 153.7"/>
<path d="M471.6 159.2 477.4 162.4 470.5 166.3 464.3 175 457.3 177.4"/>
<path d="M457.3 177.4 451.1 177 446.5 179"/>
<path d="M446.5 179 437.2 178.6 431 175.4 428.7 174.2"/>
<path d="M428.7 174.2 424.8 171.5"/>
<path d="M406.2 174.1 404.7 176.6 405.9 179 406.8 181"/>
<path d="M405.5 182.3 410.1 182.2 414.8 182.2 418.6 180.6 421.7 177.8 428.7 174.2"/>
<path d="M447.3 186.9 439.5 185.3 431.8 184.5 426.4 186.1 422.5 184.5 422.1 187.7 424.8 190.1 427.9 193.6 433.3 197.9 436.4 201.5 443 205.5"/>
<path d="M446.5 179 450.4 184.5 447.3 186.9"/>
<path d="M447.3 186.9 450 194 451.9 197.9"/>
<path d="M443 205.5 444.9 200.3 448.8 197.9 451.9 197.9"/>
<path d="M451.9 197.9 457.3 201.1 455.8 205.1"/>
<path d="M448.8 210.4 452.7 205.1 455.8 205.1"/>
<path d="M457.3 177.4 464.3 182.2 466.6 187.7 474.4 189.3"/>
<path d="M474.4 189.3 475.9 194.8 473.6 198.7 477.4 202.7 473.6 207.4"/>
<path d="M455.8 205.1 459.6 209.8 466.6 207.8 473.6 207.4"/>
<path d="M459.6 209.8 458.9 216.9 462.7 218.9"/>
<path d="M455 228 458.9 225.6 462.7 218.9"/>
<path d="M462.7 218.9 470.5 216.5 477.4 215.3"/>
<path d="M473.6 207.4 477.4 215.3"/>
<path d="M477.4 215.3 486 213.8 495.2 215.3 502.2 212.2"/>
<path d="M474.4 189.3 478.2 195.2 489.8 196.4 497.6 196.8 501.4 194.4"/>
<path d="M477.4 162.4 486 162.8 493.7 164.4 501.4 162.4"/>
<path d="M482.9 134.8 489.8 131.6 497.6 131.6 505.3 132.4"/>
<path d="M513 72.3 514.6 85"/>
<path d="M397.7 98.9 391.9 99.4 387.7 99.4 386.1 101.7 386.4 104.5 389.2 105.9 393.9 105.9 396.6 104.7 394.6 103.5 397.7 101.7Z"/>
<path d="M380.7 102.4 383.8 103.9 383 106.7 379.1 106.7 375.7 104.7 376.8 103.2Z"/>
<path d="M385.3 108.3 392.3 107.5 393.9 109.5 389.2 109.9 385.3 109.1Z"/>
<path d="M414 104.7 417.5 105.9 416.3 107.3 414 106.3Z"/>
<path d="M337.4 121.7 340.4 119.7 343.5 119.3"/>
<path d="M345.9 119.1 352.8 118.2 359 116.7 363.7 117"/>
<path d="M339.7 123.3 341.2 125.3 339.3 127.2 343.5 128 345.5 126.5 343.5 124.1 342.2 122.9"/>
<path d="M366.8 91.3 371.4 91.7 376.8 90.9 379.9 91.7"/>
<path d="M243.3 85.8 245.2 88.5 244.1 90.5 242.5 90.5Z"/>
<path d="M259.2 101.6 260.7 102.8 259.2 103.9 258.4 102.8Z"/>
<path d="M253.8 98.4 256.1 100.4 254.5 100.8Z"/>
<path d="M424.8 199.5 431 200.7"/>
<path d="M427.1 199.1 431 199.5"/>
<path d="M428.7 202.3 433.3 202.5"/>
<path d="M412.4 184.5 414 186.1 412.4 186.5Z"/>
<path d="M410.9 184.5 411.7 189.3"/>
<path d="M414.8 188.1 417.8 190.8"/>
<path d="M416.3 192.4 418.6 194.8"/>
<path d="M514.6 254 518.5 254"/>
<path d="M491.4 241.8 493.3 243"/>
<path d="M494.1 244.6 495.6 245"/>
<path d="M494.5 248.5 495.6 249.3"/>
<path d="M488.7 251.3 490.2 251.7 489.4 252.1Z"/>
<path d="M477.4 254.4 479 255.2"/>
<path d="M481.3 243.4 482.5 243.8"/>
<path d="M489.4 234.3 490.6 235.1"/>
<path d="M481.3 231.9 482.5 232.3"/>
<path d="M494.1 226 496.4 226.8"/>
<path d="M497.6 222 498.7 222"/>
<path d="M480.5 223.2 484 225.2 484 224"/>
<path d="M477.7 241.9 473.6 240.2"/>
<path d="M346.5 49.5 353 47.2 360.4 45.5"/>
<path d="M351 47 358 44.6 365.5 43.3"/>
<path d="M357 44.2 362 42.6 367 41.6"/>
<path d="M339.5 54.5 341 53.5 340 55.8"/>
<path d="M339 60.5 340.5 59.6 339.6 61.6"/>
<path d="M340 66 341.5 65.3 340.8 67.2"/>
<path d="M28 18.2 31 16.3 35.8 13.2 38.5 10.5 40.6 8.4 43 6.3 46.1 5.3 48 4"/>
<path d="M148 20.8 150 21.8 152 19.2 154.4 18.7 156 21 158 19.5 160.1 20.2 162 22 164 18.8 165.8 18.3 168 17.3 171.5 16.8 174 18.6 177.2 16 180 17 182.9 17.9 186.7 17.4 188.7 21.2 192.5 23.1 194.4 25.9 193.4 28.8 188.7 31.6 181 33.5 173.4 35.4 162 39.2 152.5 40.2 148 39.6 145.6 39.2 141.6 37.6 136 36 128.8 35.2 124.8 35.8 130.4 34 132.8 32.8 132 31.2 127.2 30.4 126.4 29.2 114.4 29.6 114.4 29.1 126 28.4 127 26.8 130.4 26.8 131 25 127.2 24 111.2 24 116 20.8 119.2 19.2 122.4 16.8 126.4 16.8 130.4 18.4 134.4 20.8 135.2 22.4 136.4 25.2 138.4 23.6 140.8 22.4 143.2 19.6 145.6 20 148 20.8"/>
<path d="M284 265 286 268 288 274 289 282 291 286 286 288 278 289 272 292 271 296 266 298 258 303 250 306 245.4 308.4 234.6 314.4 233.4 316 233.4 336"/>
<path d="M233.4 327 227.4 328.2 222.6 329.4 219 328.8 213 328.8 207.6 336 207 356 200 360 200 373"/>
<path d="M213 329 210 338 206 342 202 350 198 348.5 192 354 190 360 186 373"/>
<path d="M207.6 336 233.4 336"/>
<path d="M168 373 200 373"/>
<path d="M233.4 327 255 339.6 262 345.5 290 364 320 384"/>
<path d="M262 345.5 250 344.6 251 360 252.5 385"/>
<path d="M366 249 364.6 255 365 262 358.5 272.8 363.4 281.4 369.5 287.4 371.9 293.5 373.1 300 376.3 305"/>
<path d="M389 279 389.5 285 379.2 292.3 378 300 376.3 305"/>
<path d="M376.3 305 377.8 317.5 376.2 320 377.9 329.9 374.6 334.9 379.5 346.4 389.4 349.7 392.7 356.3"/>
<path d="M392.7 356.3 372.9 369.5 351.5 384"/>
<path d="M392.7 356.3 410.9 362.9 424 356.3 475.2 384"/>
<path d="M419 361 419.1 376.1 422.4 384"/></g>
<g stroke="#000" stroke-width="0.8" stroke-dasharray="1.85 1.5" stroke-opacity="0.42"><line x1="68" y1="5.5" x2="68" y2="383.5"/><line x1="145.4" y1="5.5" x2="145.4" y2="383.5"/><line x1="222.8" y1="5.5" x2="222.8" y2="383.5"/><line x1="300.2" y1="5.5" x2="300.2" y2="383.5"/><line x1="377.6" y1="5.5" x2="377.6" y2="383.5"/><line x1="455" y1="5.5" x2="455" y2="383.5"/><line x1="29.5" y1="67.6" x2="494.5" y2="67.6"/><line x1="29.5" y1="146.6" x2="494.5" y2="146.6"/><line x1="29.5" y1="225.6" x2="494.5" y2="225.6"/><line x1="29.5" y1="304.6" x2="494.5" y2="304.6"/></g>
<g fill="none" stroke="#000" stroke-width="1.7"><line x1="68" y1="67.6" x2="455" y2="67.6" stroke-dasharray="6.7 3.0" stroke-dashoffset="-0.4"/><line x1="68" y1="304.6" x2="455" y2="304.6" stroke-dasharray="6.7 3.0" stroke-dashoffset="4.25"/><line x1="68" y1="67.6" x2="68" y2="304.6" stroke-dasharray="6.9 3.1" stroke-dashoffset="-0.9"/><line x1="455" y1="67.6" x2="455" y2="304.6" stroke-dasharray="6.9 3.1" stroke-dashoffset="-3.1"/><line x1="261.5" y1="107.1" x2="416.3" y2="107.1" stroke-dasharray="6.7 3.0" stroke-dashoffset="-0.4"/><line x1="261.5" y1="186.1" x2="416.3" y2="186.1" stroke-dasharray="6.7 3.0" stroke-dashoffset="-0.4"/><line x1="261.5" y1="107.1" x2="261.5" y2="186.1" stroke-dasharray="6.9 3.1" stroke-dashoffset="0"/><line x1="416.3" y1="107.1" x2="416.3" y2="186.1" stroke-dasharray="6.9 3.1" stroke-dashoffset="0"/></g>
<g font-family="Liberation Sans, sans-serif" font-size="15.6" fill="#000" letter-spacing="0.5"><text x="76.4" y="99.6">(A)</text><text x="327.6" y="96">(B)</text></g>
</g>
<rect x="29.5" y="5.5" width="465.0" height="378.0" fill="none" stroke="#000" stroke-width="1"/>
<g font-family="Liberation Sans, sans-serif" font-size="7.6" fill="#808080"><text x="23.95" y="70.3" text-anchor="end" letter-spacing="0.5">60°N</text><text x="23.95" y="149.3" text-anchor="end" letter-spacing="0.5">50°N</text><text x="23.95" y="228.3" text-anchor="end" letter-spacing="0.5">40°N</text><text x="23.95" y="307.3" text-anchor="end" letter-spacing="0.5">30°N</text><text x="68.3" y="396" text-anchor="middle" letter-spacing="0.25">30°W</text><text x="145.7" y="396" text-anchor="middle" letter-spacing="0.25">20°W</text><text x="223.1" y="396" text-anchor="middle" letter-spacing="0.25">10°W</text><text x="300.5" y="396" text-anchor="middle" letter-spacing="0.25">0°</text><text x="377.9" y="396" text-anchor="middle" letter-spacing="0.25">10°E</text><text x="455.3" y="396" text-anchor="middle" letter-spacing="0.25">20°E</text></g>
<path d="M110.4 417.8L109.4 417.8L94 426.2L109.4 434.6L110.4 434.6Z" fill="#053061"/><path d="M413 417.8L414 417.8L429.5 426.2L414 434.6L413 434.6Z" fill="#67001f"/><rect x="109.4" y="417.8" width="25.8" height="16.8" fill="#10457e"/><rect x="134.8" y="417.8" width="25.8" height="16.8" fill="#2a71b2"/><rect x="160.2" y="417.8" width="25.8" height="16.8" fill="#4997c5"/><rect x="185.6" y="417.8" width="25.8" height="16.8" fill="#8ac0db"/><rect x="210.9" y="417.8" width="25.8" height="16.8" fill="#c2ddec"/><rect x="236.3" y="417.8" width="25.8" height="16.8" fill="#e7f0f4"/><rect x="261.7" y="417.8" width="25.8" height="16.8" fill="#f9ebe3"/><rect x="287.1" y="417.8" width="25.8" height="16.8" fill="#fbccb4"/><rect x="312.5" y="417.8" width="25.8" height="16.8" fill="#f19e7d"/><rect x="337.9" y="417.8" width="25.8" height="16.8" fill="#d86551"/><rect x="363.2" y="417.8" width="25.8" height="16.8" fill="#ba2832"/><rect x="388.6" y="417.8" width="25.4" height="16.8" fill="#840924"/><path d="M109.4 434.6L94 426.2L109.4 417.8L414 417.8L429.5 426.2L414 434.6Z" fill="none" stroke="#222" stroke-width="0.8"/><g font-family="Liberation Sans, sans-serif" font-size="12" fill="#000" letter-spacing="1"><line x1="109.5" y1="434.6" x2="109.5" y2="439" stroke="#333" stroke-width="1"/><rect x="92" y="448.2" width="8" height="1.15" fill="#000"/><text x="101.2" y="453" letter-spacing="0.95">2.25</text><line x1="160.5" y1="434.6" x2="160.5" y2="439" stroke="#333" stroke-width="1"/><rect x="142.8" y="448.2" width="8" height="1.15" fill="#000"/><text x="152" y="453" letter-spacing="0.95">1.50</text><line x1="210.5" y1="434.6" x2="210.5" y2="439" stroke="#333" stroke-width="1"/><rect x="193.5" y="448.2" width="8" height="1.15" fill="#000"/><text x="202.7" y="453" letter-spacing="0.95">0.75</text><line x1="261.5" y1="434.6" x2="261.5" y2="439" stroke="#333" stroke-width="1"/><text x="262.2" y="453" text-anchor="middle">0.00</text><line x1="312.5" y1="434.6" x2="312.5" y2="439" stroke="#333" stroke-width="1"/><text x="313" y="453" text-anchor="middle">0.75</text><line x1="363.5" y1="434.6" x2="363.5" y2="439" stroke="#333" stroke-width="1"/><text x="363.7" y="453" text-anchor="middle">1.50</text><line x1="414.5" y1="434.6" x2="414.5" y2="439" stroke="#333" stroke-width="1"/><text x="414.5" y="453" text-anchor="middle">2.25</text></g><g font-family="Liberation Sans, sans-serif" font-size="12.4" fill="#000"><text x="261.7" y="471" text-anchor="middle" textLength="147" lengthAdjust="spacing">500 hPa Streamfunction</text><text x="262.5" y="486.3" text-anchor="middle" letter-spacing="0.9">(x10<tspan font-size="8.6" dy="-4.6">7</tspan><tspan dy="4.6"> m</tspan><tspan font-size="8.6" dy="-4.6">2</tspan><tspan dy="4.6">/s)</tspan></text></g>
</svg>
</body></html>
